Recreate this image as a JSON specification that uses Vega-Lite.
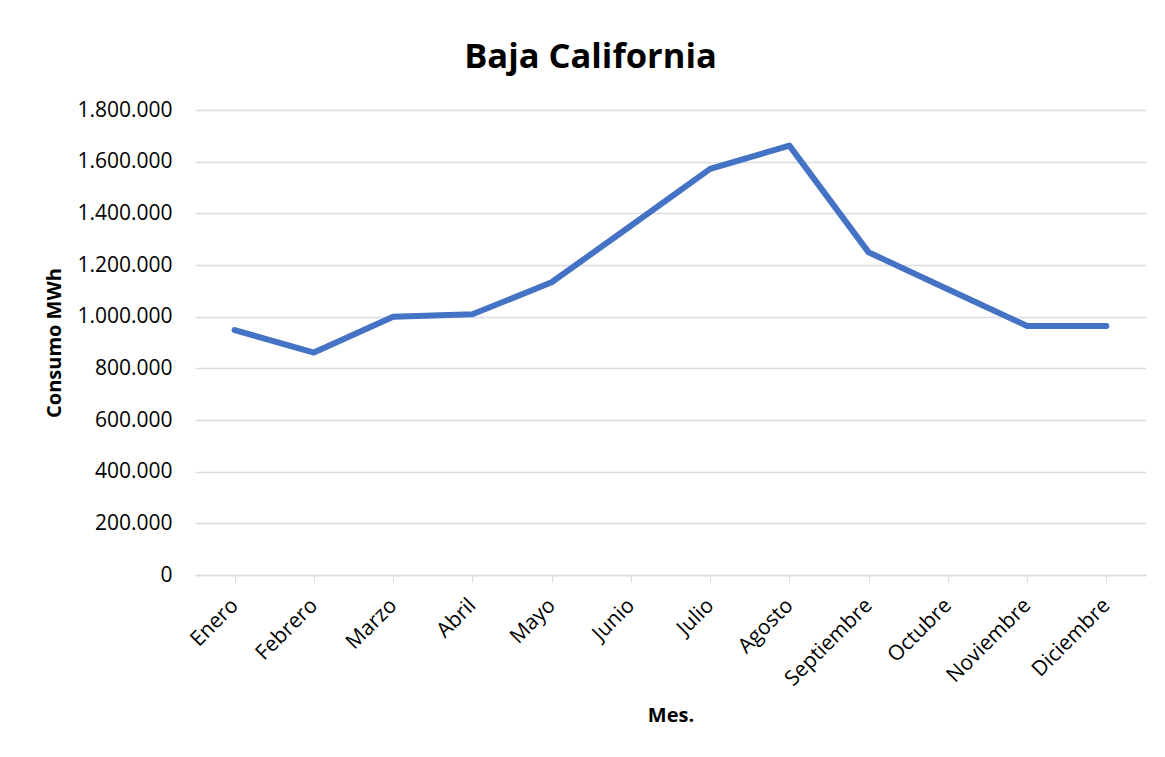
{
  "$schema": "https://vega.github.io/schema/vega-lite/v6.json",
  "width": 951,
  "height": 465,
  "autosize": {"type": "none"},
  "padding": {"left": 195, "top": 110, "right": 19, "bottom": 182},
  "background": "white",
  "title": {
    "text": "Baja California",
    "font": "Open Sans",
    "fontSize": 34.5,
    "fontWeight": "bold",
    "color": "#000000",
    "anchor": "middle",
    "frame": "group",
    "baseline": "alphabetic",
    "offset": -3,
    "dx": -80
  },
  "data": {
    "values": [
      {"Mes": "Enero", "Consumo": 948000},
      {"Mes": "Febrero", "Consumo": 861000},
      {"Mes": "Marzo", "Consumo": 1000000},
      {"Mes": "Abril", "Consumo": 1009000},
      {"Mes": "Mayo", "Consumo": 1133000},
      {"Mes": "Junio", "Consumo": 1352000},
      {"Mes": "Julio", "Consumo": 1572000},
      {"Mes": "Agosto", "Consumo": 1662000},
      {"Mes": "Septiembre", "Consumo": 1249000},
      {"Mes": "Octubre", "Consumo": 1106000},
      {"Mes": "Noviembre", "Consumo": 964000},
      {"Mes": "Diciembre", "Consumo": 964000}
    ]
  },
  "mark": {"type": "line", "color": "#4472C4", "strokeWidth": 6, "strokeCap": "round", "strokeJoin": "round"},
  "encoding": {
    "x": {
      "field": "Mes",
      "type": "ordinal",
      "sort": null,
      "scale": {"type": "point", "padding": 0.5},
      "axis": {
        "title": "Mes.",
        "titleFont": "Open Sans",
        "titleFontSize": 20,
        "titleFontWeight": "bold",
        "titleColor": "#000000",
        "titleY": 140,
        "titleBaseline": "middle",
        "labelFont": "Open Sans",
        "labelFontSize": 21,
        "labelColor": "#000000",
        "labelAngle": -45,
        "labelAlign": "right",
        "labelBaseline": "middle",
        "labelPadding": 20,
        "tickSize": 7,
        "tickColor": "#d9dce3",
        "tickBand": "extent",
        "domainColor": "#d9dce3",
        "domainWidth": 1.5,
        "grid": false
      }
    },
    "y": {
      "field": "Consumo",
      "type": "quantitative",
      "scale": {"domain": [0, 1800000]},
      "axis": {
        "title": "Consumo MWh",
        "titleFont": "Open Sans",
        "titleFontSize": 20,
        "titleFontWeight": "bold",
        "titleColor": "#000000",
        "titleX": -141,
        "titleY": 232.5,
        "titleAlign": "center",
        "titleBaseline": "middle",
        "titleAngle": -90,
        "values": [0, 200000, 400000, 600000, 800000, 1000000, 1200000, 1400000, 1600000, 1800000],
        "labelExpr": "replace(replace(format(datum.value, ','), ',', '.'), ',', '.')",
        "labelFont": "Open Sans",
        "labelFontSize": 21,
        "labelColor": "#000000",
        "labelPadding": 23,
        "ticks": false,
        "tickSize": 0,
        "domain": false,
        "grid": true,
        "gridColor": "#d9dce3",
        "gridWidth": 1.5
      }
    }
  },
  "config": {"view": {"stroke": null}}
}
